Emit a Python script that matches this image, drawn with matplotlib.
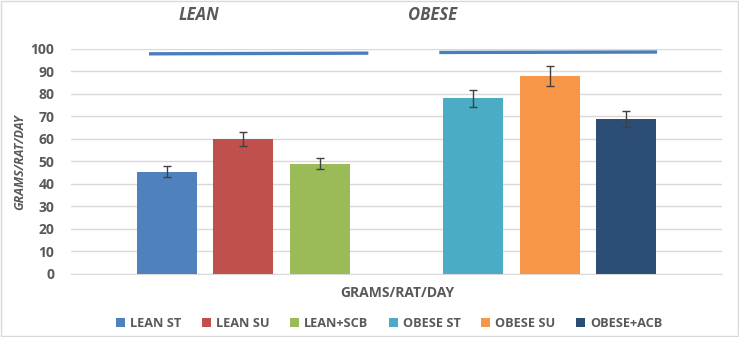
import matplotlib
matplotlib.use("Agg")
import matplotlib.pyplot as plt
from matplotlib.patches import Patch, Rectangle

# food intake per group, grams/rat/day
groups = ["LEAN ST", "LEAN SU", "LEAN+SCB", "OBESE ST", "OBESE SU", "OBESE+ACB"]
means = [45.5, 60.0, 49.0, 78.0, 88.0, 69.0]
errors = [2.3, 3.0, 2.5, 3.8, 4.4, 3.5]
slots = [0, 1, 2, 4, 5, 6]
colors = ["#4F81BD", "#C0504D", "#9BBB59", "#4BACC6", "#F79646", "#2C4D75"]

# reference lines drawn over each block
lean_ref_x = [-0.21, 2.61]
lean_ref_y = [97.8, 98.1]
obese_ref_x = [3.58, 6.38]
obese_ref_y = [98.4, 98.6]

TXT = "#595959"
plt.rcParams["font.family"] = ["Open Sans", "DejaVu Sans"]

fig = plt.figure(figsize=(7.39, 3.37), dpi=100)
ax = fig.add_axes([0.0961, 0.187, 0.881, 0.668])

ax.bar(slots, means, width=0.78, color=colors, zorder=3)
ax.errorbar(slots, means, yerr=errors, fmt="none", ecolor="#404040",
            elinewidth=1, capsize=3, capthick=1, zorder=4)
ax.plot(lean_ref_x, lean_ref_y, color="#4A7EBB", lw=2.4, zorder=5)
ax.plot(obese_ref_x, obese_ref_y, color="#4A7EBB", lw=2.4, zorder=5)

ax.set_xlim(-1.25, 7.25)
ax.set_ylim(0, 100)
ax.set_yticks(range(0, 101, 10))
ax.set_xticks([])
ax.grid(axis="y", color="#D9D9D9", lw=1, zorder=0)
for s in ["top", "right", "left"]:
    ax.spines[s].set_visible(False)
ax.spines["bottom"].set_color("#D9D9D9")
ax.tick_params(axis="y", length=0, pad=12, labelsize=10, labelcolor=TXT)
for lb in ax.get_yticklabels():
    lb.set_fontweight("bold")

fig.text(0.027, 0.52, "GRAMS/RAT/DAY", rotation=90, ha="center", va="center",
         fontsize=9, fontweight="bold", style="italic", color=TXT)
fig.text(0.537, 0.13, "GRAMS/RAT/DAY", ha="center", va="center",
         fontsize=10, fontweight="bold", color=TXT)
fig.text(0.269, 0.955, "LEAN", ha="center", va="center",
         fontsize=12, fontweight="bold", style="italic", color=TXT)
fig.text(0.585, 0.955, "OBESE", ha="center", va="center",
         fontsize=12, fontweight="bold", style="italic", color=TXT)

handles = [Patch(facecolor=c, edgecolor="none", label=g) for g, c in zip(groups, colors)]
leg = fig.legend(handles=handles, loc="center", bbox_to_anchor=(0.527, 0.04), ncol=6,
                 frameon=False, fontsize=9.2, handlelength=0.7, handleheight=0.7,
                 handletextpad=0.4, columnspacing=1.6)
for t in leg.get_texts():
    t.set_color(TXT)
    t.set_fontweight("bold")

fig.patches.append(Rectangle((0.001, 0.002), 0.997, 0.995, transform=fig.transFigure,
                             fill=False, edgecolor="#D9D9D9", lw=1))

fig.savefig("out.png", dpi=100)
